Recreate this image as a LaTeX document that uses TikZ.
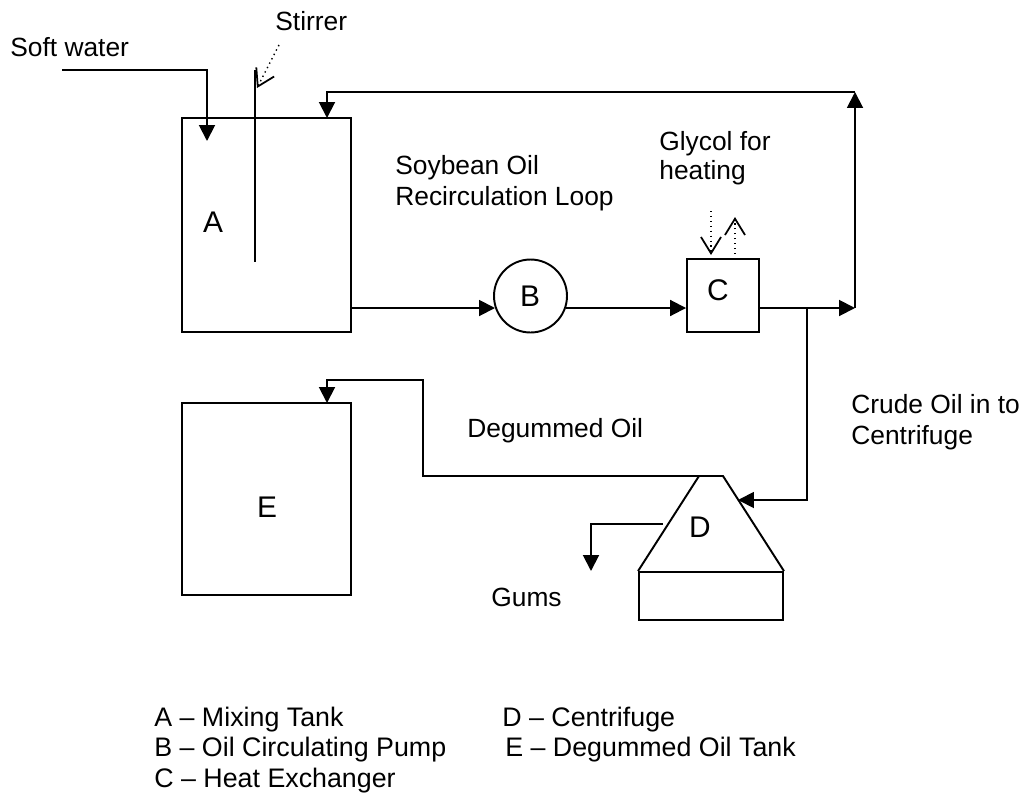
\documentclass[tikz,border=0pt]{standalone}
\usepackage{fontspec}
\setmainfont{Liberation Sans}
\usetikzlibrary{arrows.meta}
\tikzset{
  unitbox/.style={draw=black,line width=1.1pt,rectangle},
  flowline/.style={draw=black,line width=1.1pt,-{Triangle[length=9pt,width=9pt]}},
  plainline/.style={draw=black,line width=1.1pt},
  utilityline/.style={draw=black,line width=0.8pt,dotted,-{Straight Barb[length=9.3pt,width=11.4pt,line width=1pt]}},
  lbl/.style={anchor=base west,font=\fontsize{15}{18}\selectfont,text=black},
  keylbl/.style={lbl,font=\fontsize{15.25}{18}\selectfont},
  unitlbl/.style={font=\fontsize{17}{20}\selectfont,text=black}
}
\begin{document}
\begin{tikzpicture}[x=0.02cm,y=0.02cm]
\tikzstyle{every node}+=[inner sep=0pt]
\useasboundingbox (0,0) rectangle (1028,-795);
\node [unitbox,minimum width=3.38cm,minimum height=4.28cm] (tankA) at (266.5,-225) {};
\node [unitbox,minimum width=3.38cm,minimum height=3.84cm] (tankE) at (266.5,-499) {};
\node [unitbox,circle,minimum size=1.46cm] (pumpB) at (530.5,-296) {};
\node [unitbox,minimum width=1.44cm,minimum height=1.46cm] (heaterC) at (723,-295.5) {};
\node [unitbox,minimum width=2.88cm,minimum height=0.96cm] (baseD) at (711,-596) {};
\draw (213,-222) node [unitlbl] (labelA) {A};
\draw (530,-296) node [unitlbl] (labelB) {B};
\draw (718,-290) node [unitlbl] (labelC) {C};
\draw (700,-527) node [unitlbl] (labelD) {D};
\draw (267,-507) node [unitlbl] (labelE) {E};
\node [lbl] (softwater) at (10,-56) {Soft water};
\node [lbl] (stirrer) at (275,-30) {Stirrer};
\node [lbl] (soybean) at (395,-174.5) {Soybean Oil};
\node [lbl] (recirc) at (395,-205.5) {Recirculation Loop};
\node [lbl] (glycol) at (659,-150) {Glycol for};
\node [lbl] (heating) at (659,-179) {heating};
\node [lbl] (crude) at (851,-413.5) {Crude Oil in to};
\node [lbl] (centrifuge) at (851,-444) {Centrifuge};
\node [lbl] (degummed) at (467,-437) {Degummed Oil};
\node [lbl] (gums) at (491,-606) {Gums};
\node [keylbl] (keyA) at (154,-726) {A -- Mixing Tank};
\node [keylbl] (keyB) at (154,-756) {B -- Oil Circulating Pump};
\node [keylbl] (keyC) at (154,-787) {C -- Heat Exchanger};
\node [keylbl] (keyD) at (502,-726) {D -- Centrifuge};
\node [keylbl] (keyE) at (505,-756) {E -- Degummed Oil Tank};
\coordinate (conetl) at (699,-476);
\coordinate (conetr) at (723,-476);
\coordinate (waterin) at (62,-70);
\coordinate (watertip) at (207,-141);
\coordinate (stirtop) at (255,-70);
\coordinate (stirend) at (255,-262);
\coordinate (stirfrom) at (279,-45);
\coordinate (stirtip) at (257,-88);
\coordinate (pumpin) at (495,-308);
\coordinate (pumpout) at (566,-308);
\coordinate (split) at (807,-308);
\coordinate (loopcorner) at (855,-308);
\coordinate (looptop) at (855,-92);
\coordinate (returnin) at (327,-118);
\coordinate (feedtip) at (738,-500);
\coordinate (oilup) at (423,-380);
\coordinate (etop) at (327,-403);
\coordinate (gumstart) at (663,-524);
\coordinate (gumtip) at (591,-571);
\coordinate (glycolin) at (711,-211);
\coordinate (glycolintip) at (711,-255);
\coordinate (glycolout) at (735,-259);
\coordinate (glycolouttip) at (735,-217);
\draw [plainline] (baseD.north west) -- (conetl) -- (conetr) -- (baseD.north east);
\draw [flowline] (waterin) -| (watertip);
\draw [plainline] (stirtop) -- (stirend);
\draw [utilityline] (stirfrom) -- (stirtip);
\draw [flowline] (tankA.east |- pumpin) -- (pumpin);
\draw [flowline] (pumpout) -- (heaterC.west |- pumpout);
\draw [flowline] (heaterC.east |- pumpout) -- (loopcorner);
\draw [flowline] (loopcorner) -- (looptop);
\draw [flowline] (looptop) -| (returnin);
\draw [flowline] (split) |- (feedtip);
\draw [flowline] (conetr) -| (oilup) -| (etop);
\draw [flowline] (gumstart) -| (gumtip);
\draw [utilityline] (glycolin) -- (glycolintip);
\draw [utilityline] (glycolout) -- (glycolouttip);
\end{tikzpicture}
\end{document}
